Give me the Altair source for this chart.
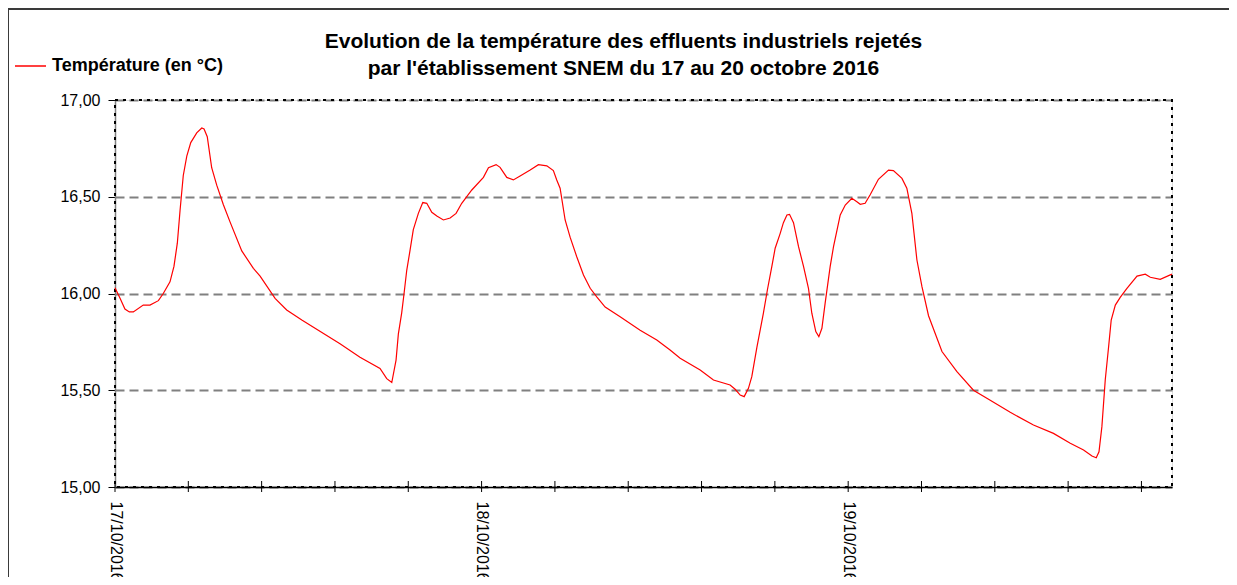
import json
import altair as alt
import pandas as pd

# ---- data (hours since 17/10/2016 00:00, °C) ----
hours = [0, 0.33, 0.65, 0.94, 1.2, 1.85, 2.29, 2.84, 3.16, 3.6, 3.86, 4.08, 4.26, 4.47, 4.7,
         4.96, 5.35, 5.68, 5.83, 6.04, 6.33, 6.66, 7.09, 7.53, 8.3, 9.06, 9.5, 10.48, 11.24,
         12.23, 14.73, 16.04, 17.35, 17.79, 18.12, 18.4, 18.55, 18.77, 18.93, 19.1, 19.32,
         19.53, 19.86, 20.15, 20.41, 20.74, 21.07, 21.5, 21.94, 22.33, 22.7, 23.36, 24.12,
         24.45, 24.95, 25.21, 25.65, 26.08, 26.52, 27.18, 27.72, 28.27, 28.7, 28.92, 29.14,
         29.47, 29.8, 30.23, 30.67, 31.11, 31.54, 32.09, 33.07, 34.38, 35.47, 36.34, 37.0,
         38.31, 39.18, 40.27, 40.6, 40.93, 41.19, 41.47, 41.69, 42.02, 42.45, 42.71, 43.0,
         43.22, 43.55, 43.76, 43.99, 44.16, 44.42, 44.75, 45.08, 45.4, 45.62, 45.88, 46.08,
         46.28, 46.49, 46.82, 47.04, 47.48, 47.81, 48.24, 48.57, 48.79, 49.11, 49.44, 49.98,
         50.64, 50.96, 51.52, 51.84, 52.17, 52.5, 52.83, 53.26, 54.14, 55.12, 56.2, 57.19,
         58.61, 60.13, 61.44, 62.54, 63.41, 63.96, 64.24, 64.42, 64.61, 64.83, 65.05, 65.22,
         65.49, 65.81, 66.25, 66.91, 67.45, 67.78, 68.43, 69.2]
temps = [16.03, 15.975, 15.92, 15.905, 15.905, 15.94, 15.94, 15.963, 16.0, 16.06, 16.14, 16.26,
         16.43, 16.61, 16.71, 16.78, 16.83, 16.855, 16.85, 16.81, 16.65, 16.56, 16.46, 16.37,
         16.22, 16.13, 16.09, 15.975, 15.915, 15.863, 15.74, 15.67, 15.613, 15.56, 15.54,
         15.656, 15.79, 15.9, 16.004, 16.12, 16.225, 16.33, 16.414, 16.47, 16.466, 16.42,
         16.4, 16.38, 16.39, 16.414, 16.466, 16.535, 16.6, 16.65, 16.666, 16.652, 16.6,
         16.587, 16.607, 16.638, 16.666, 16.66, 16.635, 16.587, 16.544, 16.38, 16.29, 16.19,
         16.096, 16.027, 15.983, 15.93, 15.88, 15.81, 15.76, 15.708, 15.665, 15.605, 15.553,
         15.527, 15.505, 15.475, 15.467, 15.51, 15.57, 15.72, 15.898, 16.018, 16.139, 16.234,
         16.311, 16.366, 16.406, 16.409, 16.366, 16.242, 16.139, 16.027, 15.898, 15.803,
         15.777, 15.82, 15.949, 16.139, 16.242, 16.406, 16.457, 16.492, 16.474, 16.461,
         16.466, 16.51, 16.59, 16.638, 16.635, 16.595, 16.544, 16.414, 16.173, 16.035, 15.885,
         15.7, 15.596, 15.5, 15.453, 15.386, 15.32, 15.277, 15.226, 15.191, 15.16, 15.151,
         15.182, 15.312, 15.553, 15.725, 15.863, 15.94, 15.98, 16.027, 16.09, 16.1, 16.084,
         16.073, 16.1]
series_name = "Température (en °C)"
tick_hours = [0, 4.8, 9.6, 14.4, 19.2, 24, 28.8, 33.6, 38.4, 43.2, 48, 52.8, 57.6, 62.4, 67.2]
date_labels = ["17/10/2016", "18/10/2016", "19/10/2016"]
y_ticks = [15, 15.5, 16, 16.5, 17]
title_lines = ["Evolution de la température des effluents industriels rejetés",
               "par l'établissement SNEM du 17 au 20 octobre 2016"]

FONT = "Liberation Sans"
W, H = 1057, 387

df = pd.DataFrame({"h": hours, "t": temps, "s": series_name})
ticks_df = pd.DataFrame({"h": tick_hours})
one = pd.DataFrame({"a": [0]})

x_scale = alt.Scale(domain=[0, 69.2], nice=False, zero=False)
y_scale = alt.Scale(domain=[15, 17], nice=False, zero=False)

x_label_expr = ("datum.value % 24 == 0 ? " + json.dumps(date_labels) +
                "[datum.value / 24] : ''")

line = alt.Chart(df).mark_line(strokeWidth=1.2, clip=False).encode(
    x=alt.X("h:Q", scale=x_scale, title=None,
            axis=alt.Axis(values=tick_hours, labelExpr=x_label_expr, ticks=False, tickSize=0,
                          grid=False, domainColor="black", domainWidth=1.5,
                          labelAngle=90, labelAlign="left", labelBaseline="middle",
                          labelPadding=14, labelFontSize=16, labelFont=FONT,
                          labelColor="black", labelOverlap=False, labelBound=False)),
    y=alt.Y("t:Q", scale=y_scale, title=None,
            axis=alt.Axis(values=y_ticks,
                          labelExpr="replace(format(datum.value, '.2f'), '.', ',')",
                          grid=True, gridColor="#808080", gridDash=[9, 5], gridWidth=2,
                          tickSize=7, tickColor="black", tickWidth=1,
                          domainColor="#808080", domainWidth=1.5,
                          labelPadding=8, labelFontSize=16, labelFont=FONT,
                          labelColor="black")),
    color=alt.Color("s:N", scale=alt.Scale(range=["#ff0000"]),
                    legend=alt.Legend(title=None, orient="none", legendX=-101, legendY=-50.5,
                                      padding=0, symbolType="stroke", symbolSize=961,
                                      symbolStrokeWidth=1.5, labelOffset=5, labelLimit=0,
                                      labelFont=FONT, labelFontSize=18,
                                      labelFontWeight="bold", labelColor="black")),
)

tick_rules = alt.Chart(ticks_df).mark_rule(color="black", strokeWidth=1).encode(
    x=alt.X("h:Q", scale=x_scale),
    y=alt.value(H - 6),
    y2=alt.value(H + 5),
)

# dotted plot frame
frame = alt.Chart(one).mark_rect(
    fillOpacity=0, stroke="black", strokeWidth=2, strokeDash=[3, 5]
).encode(x=alt.value(0), x2=alt.value(W), y=alt.value(0), y2=alt.value(H))

# outer chart border
border = alt.Chart(one).mark_rect(
    fillOpacity=0, stroke="#3a3a3a", strokeWidth=2
).encode(x=alt.value(-107), x2=alt.value(1300), y=alt.value(-91), y2=alt.value(800))

title1 = alt.Chart(one).mark_text(
    font=FONT, fontSize=21, fontWeight="bold", color="black", align="center",
    baseline="alphabetic"
).encode(x=alt.value(508.5), y=alt.value(-52.3), text=alt.value(title_lines[0]))
title2 = alt.Chart(one).mark_text(
    font=FONT, fontSize=21, fontWeight="bold", color="black", align="center",
    baseline="alphabetic"
).encode(x=alt.value(508.5), y=alt.value(-25), text=alt.value(title_lines[1]))

chart = alt.layer(border, frame, tick_rules, line, title1, title2).properties(
    width=W, height=H,
    autosize=alt.AutoSizeParams(type="none"),
    padding={"left": 107, "top": 92, "right": 57, "bottom": 90},
).configure_view(
    stroke=None
).configure(background="white")

chart.save("out.html", embed_options={"renderer": "svg", "actions": False})
